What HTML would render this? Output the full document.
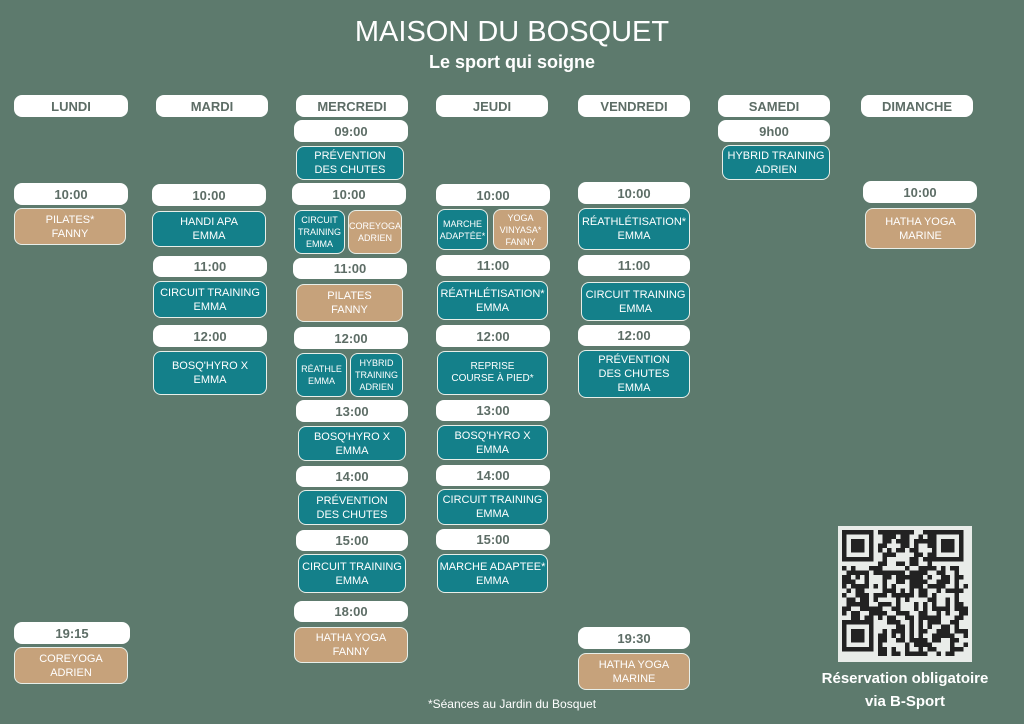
<!DOCTYPE html>
<html><head><meta charset="utf-8">
<style>
body{margin:0;width:1024px;height:724px;background:#5d7a6d;position:relative;overflow:hidden;font-family:"Liberation Sans",sans-serif}
.a{position:absolute;box-sizing:border-box;display:flex;align-items:center;justify-content:center;text-align:center}
.p{background:#fff;border-radius:8px;color:#5d6d66;font-size:13px;font-weight:bold}
.t,.g{border:1.5px solid #e8efe9;border-radius:8px;color:#fff;font-size:11px;line-height:14px}
.t{background:#14808a}.g{background:#c6a27b}
.s{font-size:9px;line-height:12px}
</style></head><body>
<div class="a" style="left:0;width:1024px;top:12px;height:40px;color:#fff;font-size:29px;letter-spacing:0px;font-weight:normal">MAISON DU BOSQUET</div>
<div class="a" style="left:0;width:1024px;top:50px;height:24px;color:#fff;font-size:18px;font-weight:bold">Le sport qui soigne</div>

<div class="a p" style="left:14px;top:95px;width:114px;height:22px">LUNDI</div>
<div class="a p" style="left:156px;top:95px;width:112px;height:22px">MARDI</div>
<div class="a p" style="left:296px;top:95px;width:112px;height:22px">MERCREDI</div>
<div class="a p" style="left:436px;top:95px;width:112px;height:22px">JEUDI</div>
<div class="a p" style="left:578px;top:95px;width:112px;height:22px">VENDREDI</div>
<div class="a p" style="left:718px;top:95px;width:112px;height:22px">SAMEDI</div>
<div class="a p" style="left:861px;top:95px;width:112px;height:22px">DIMANCHE</div>

<!-- Lundi -->
<div class="a p" style="left:14px;top:183px;width:114px;height:22px">10:00</div>
<div class="a g" style="left:14px;top:208px;width:112px;height:37px">PILATES*<br>FANNY</div>
<div class="a p" style="left:14px;top:622px;width:116px;height:22px">19:15</div>
<div class="a g" style="left:14px;top:647px;width:114px;height:37px">COREYOGA<br>ADRIEN</div>

<!-- Mardi -->
<div class="a p" style="left:152px;top:184px;width:114px;height:22px">10:00</div>
<div class="a t" style="left:152px;top:211px;width:114px;height:36px">HANDI APA<br>EMMA</div>
<div class="a p" style="left:153px;top:256px;width:114px;height:21px">11:00</div>
<div class="a t" style="left:153px;top:281px;width:114px;height:37px">CIRCUIT TRAINING<br>EMMA</div>
<div class="a p" style="left:153px;top:325px;width:114px;height:22px">12:00</div>
<div class="a t" style="left:153px;top:351px;width:114px;height:44px">BOSQ'HYRO X<br>EMMA</div>

<!-- Mercredi -->
<div class="a p" style="left:294px;top:120px;width:114px;height:22px">09:00</div>
<div class="a t" style="left:296px;top:146px;width:108px;height:34px">PRÉVENTION<br>DES CHUTES</div>
<div class="a p" style="left:292px;top:183px;width:114px;height:22px">10:00</div>
<div class="a t s" style="left:294px;top:210px;width:51px;height:44px">CIRCUIT<br>TRAINING<br>EMMA</div>
<div class="a g s" style="left:348px;top:210px;width:54px;height:44px">COREYOGA<br>ADRIEN</div>
<div class="a p" style="left:293px;top:258px;width:114px;height:21px">11:00</div>
<div class="a g" style="left:296px;top:284px;width:107px;height:38px">PILATES<br>FANNY</div>
<div class="a p" style="left:294px;top:327px;width:114px;height:22px">12:00</div>
<div class="a t s" style="left:296px;top:353px;width:51px;height:44px">RÉATHLE<br>EMMA</div>
<div class="a t s" style="left:350px;top:353px;width:53px;height:44px">HYBRID<br>TRAINING<br>ADRIEN</div>
<div class="a p" style="left:296px;top:400px;width:112px;height:22px">13:00</div>
<div class="a t" style="left:298px;top:426px;width:108px;height:35px">BOSQ'HYRO X<br>EMMA</div>
<div class="a p" style="left:296px;top:466px;width:112px;height:21px">14:00</div>
<div class="a t" style="left:298px;top:490px;width:108px;height:35px">PRÉVENTION<br>DES CHUTES</div>
<div class="a p" style="left:296px;top:530px;width:112px;height:21px">15:00</div>
<div class="a t" style="left:298px;top:554px;width:108px;height:39px">CIRCUIT TRAINING<br>EMMA</div>
<div class="a p" style="left:294px;top:601px;width:114px;height:21px">18:00</div>
<div class="a g" style="left:294px;top:627px;width:114px;height:36px">HATHA YOGA<br>FANNY</div>

<!-- Jeudi -->
<div class="a p" style="left:436px;top:184px;width:114px;height:22px">10:00</div>
<div class="a t s" style="left:437px;top:209px;width:51px;height:41px">MARCHE<br>ADAPTÉE*</div>
<div class="a g s" style="left:493px;top:209px;width:55px;height:41px">YOGA<br>VINYASA*<br>FANNY</div>
<div class="a p" style="left:436px;top:255px;width:114px;height:21px">11:00</div>
<div class="a t" style="left:437px;top:281px;width:111px;height:39px">RÉATHLÉTISATION*<br>EMMA</div>
<div class="a p" style="left:436px;top:325px;width:114px;height:22px">12:00</div>
<div class="a t s" style="left:437px;top:351px;width:111px;height:44px;font-size:10px">REPRISE<br>COURSE À PIED*</div>
<div class="a p" style="left:436px;top:400px;width:114px;height:21px">13:00</div>
<div class="a t" style="left:437px;top:425px;width:111px;height:35px">BOSQ'HYRO X<br>EMMA</div>
<div class="a p" style="left:436px;top:465px;width:114px;height:21px">14:00</div>
<div class="a t" style="left:437px;top:489px;width:111px;height:36px">CIRCUIT TRAINING<br>EMMA</div>
<div class="a p" style="left:436px;top:529px;width:114px;height:21px">15:00</div>
<div class="a t" style="left:437px;top:554px;width:111px;height:39px">MARCHE ADAPTEE*<br>EMMA</div>

<!-- Vendredi -->
<div class="a p" style="left:578px;top:182px;width:112px;height:22px">10:00</div>
<div class="a t" style="left:578px;top:208px;width:112px;height:42px">RÉATHLÉTISATION*<br>EMMA</div>
<div class="a p" style="left:578px;top:255px;width:112px;height:21px">11:00</div>
<div class="a t" style="left:581px;top:282px;width:109px;height:39px">CIRCUIT TRAINING<br>EMMA</div>
<div class="a p" style="left:578px;top:325px;width:112px;height:21px">12:00</div>
<div class="a t" style="left:578px;top:350px;width:112px;height:48px">PRÉVENTION<br>DES CHUTES<br>EMMA</div>
<div class="a p" style="left:578px;top:627px;width:112px;height:22px">19:30</div>
<div class="a g" style="left:578px;top:653px;width:112px;height:37px">HATHA YOGA<br>MARINE</div>

<!-- Samedi -->
<div class="a p" style="left:718px;top:120px;width:112px;height:22px">9h00</div>
<div class="a t" style="left:722px;top:145px;width:108px;height:35px">HYBRID TRAINING<br>ADRIEN</div>

<!-- Dimanche -->
<div class="a p" style="left:863px;top:181px;width:114px;height:22px">10:00</div>
<div class="a g" style="left:865px;top:208px;width:111px;height:41px">HATHA YOGA<br>MARINE</div>

<!-- QR -->
<svg id="qr" style="position:absolute;left:838px;top:526px" width="134" height="136" viewBox="0 0 134 136">
<rect width="134" height="136" fill="#e9ece9"/>
</svg>
<script>
(function(){var s=document.getElementById('qr'),n='http://www.w3.org/2000/svg',seed=7;
function r(){seed=(seed*9301+49297)%233280;return seed/233280;}
function R(x,y,w,h,c){var e=document.createElementNS(n,'rect');e.setAttribute('x',x);e.setAttribute('y',y);e.setAttribute('width',w);e.setAttribute('height',h);e.setAttribute('fill',c);s.appendChild(e);}
var m=4.5,o=4;
for(var i=0;i<28;i++)for(var j=0;j<28;j++){if((i<8&&j<8)||(i<8&&j>19)||(i>19&&j<8))continue;if(r()<0.5)R(o+i*m,o+j*m,m,m,'#222');}
[[0,0],[20,0],[0,20]].forEach(function(p){var x=o+p[0]*m,y=o+p[1]*m;R(x,y,7*m,7*m,'#222');R(x+m,y+m,5*m,5*m,'#e9ece9');R(x+2*m,y+2*m,3*m,3*m,'#222');});
})();
</script>
<div class="a" style="left:800px;width:210px;top:668px;height:20px;color:#fff;font-size:15px;font-weight:bold">Réservation obligatoire</div>
<div class="a" style="left:800px;width:210px;top:691px;height:20px;color:#fff;font-size:15px;font-weight:bold">via B-Sport</div>
<div class="a" style="left:362px;width:300px;top:695px;height:18px;color:#fff;font-size:12px">*Séances au Jardin du Bosquet</div>
</body></html>
